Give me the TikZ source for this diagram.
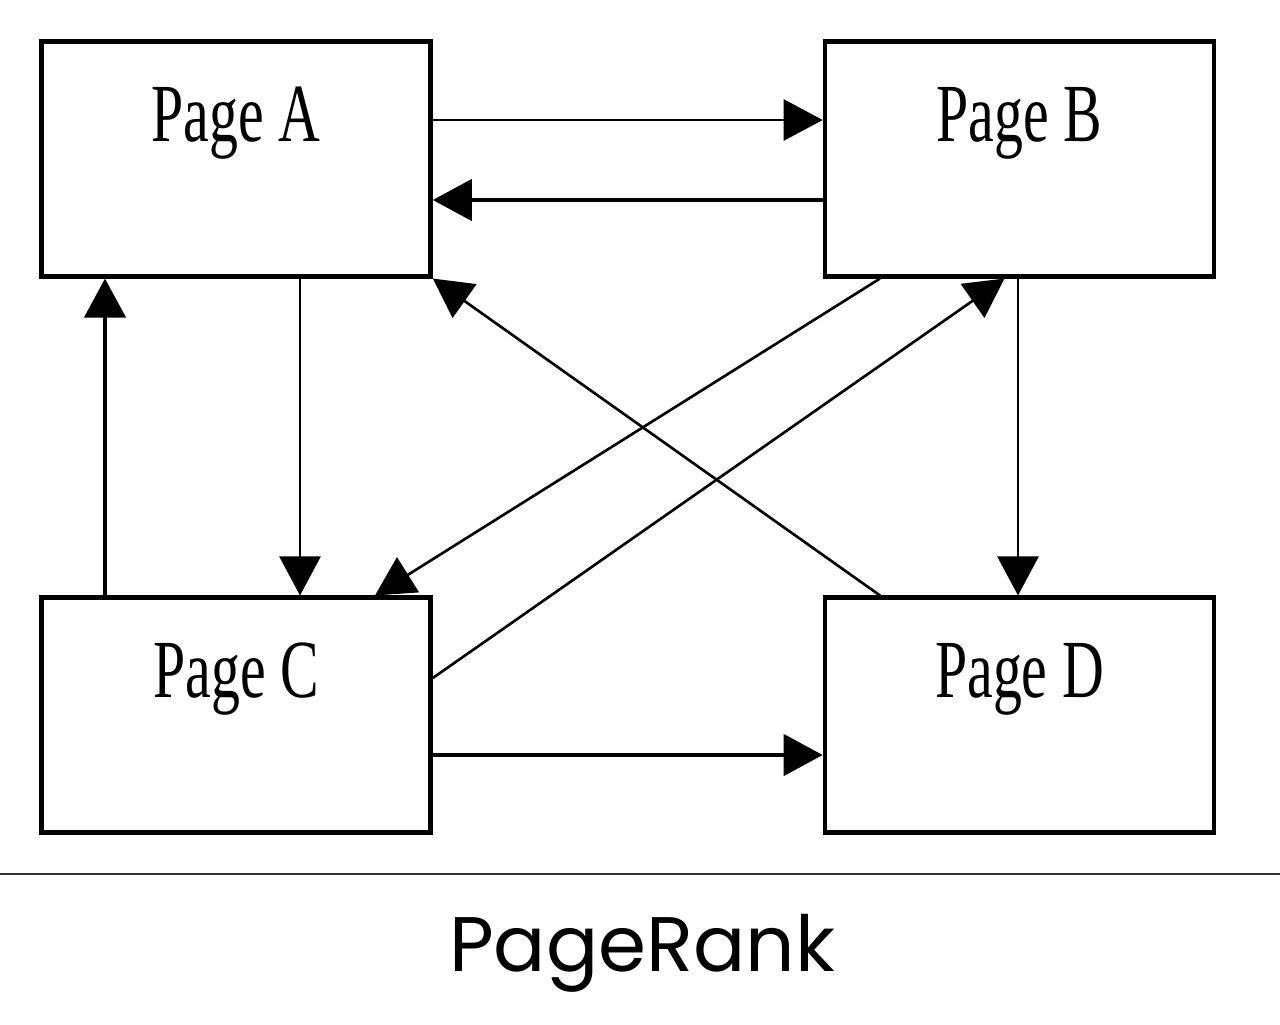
\documentclass[tikz,border=0pt]{standalone}
\usepackage{fontspec}
\setmainfont{Liberation Serif}
\newfontfamily\captionfont{Poppins}
\usetikzlibrary{arrows.meta,positioning}
\definecolor{RuleGray}{HTML}{333333}
\tikzset{
  page/.style={draw=black, line width=2.6pt, inner sep=0pt,
               minimum width=7.78cm, text height=2.0cm, text depth=2.69cm,
               font=\fontsize{47}{50}\selectfont},
  link/.style={-{Triangle[length=0.78cm, width=0.82cm]}, line width=1.5pt,
               draw=black},
  heavylink/.style={link, line width=2.4pt},
  rule/.style={draw=RuleGray, line width=0.8pt},
  caption/.style={anchor=base, inner sep=0pt,
                  font=\captionfont\fontsize{44}{48}\selectfont}
}
\newcommand{\pagename}[1]{\scalebox{0.7}[1]{Page #1}}

\begin{document}
\begin{tikzpicture}
  \useasboundingbox (0,0) rectangle (25.6,-20.48);

  \node[page] (pageA) at (4.72,-3.18) {\pagename{A}};
  \node[page] (pageB) at (20.39,-3.18) {\pagename{B}};
  \node[page] (pageC) at (4.72,-14.3) {\pagename{C}};
  \node[page] (pageD) at (20.39,-14.3) {\pagename{D}};

  % links between the pages
  \draw[link] ([yshift=0.78cm]pageA.east) -- ([yshift=0.78cm]pageB.west);
  \draw[heavylink] ([yshift=-0.82cm]pageB.west) -- ([yshift=-0.82cm]pageA.east);
  \draw[link] ([xshift=1.28cm]pageA.south) -- ([xshift=1.28cm]pageC.north);
  \draw[heavylink] ([xshift=-2.62cm]pageC.north) -- ([xshift=-2.62cm]pageA.south);
  \draw[link] ([xshift=-0.03cm]pageB.south) -- ([xshift=-0.03cm]pageD.north);
  \draw[heavylink] ([yshift=-0.8cm]pageC.east) -- ([yshift=-0.8cm]pageD.west);
  \draw[link] ([xshift=-2.79cm]pageD.north) -- (pageA.south east);
  \draw[link] ([xshift=-2.79cm]pageB.south) -- ([xshift=2.78cm]pageC.north);
  \draw[link] ([yshift=0.74cm]pageC.east) -- ([xshift=-0.3cm]pageB.south);

  \coordinate (ruleL) at (0,-17.48);
  \coordinate (ruleR) at (25.6,-17.48);
  \draw[rule] (ruleL) -- (ruleR);

  \node[caption] (title) at (12.84,-19.42) {PageRank};
\end{tikzpicture}
\end{document}
